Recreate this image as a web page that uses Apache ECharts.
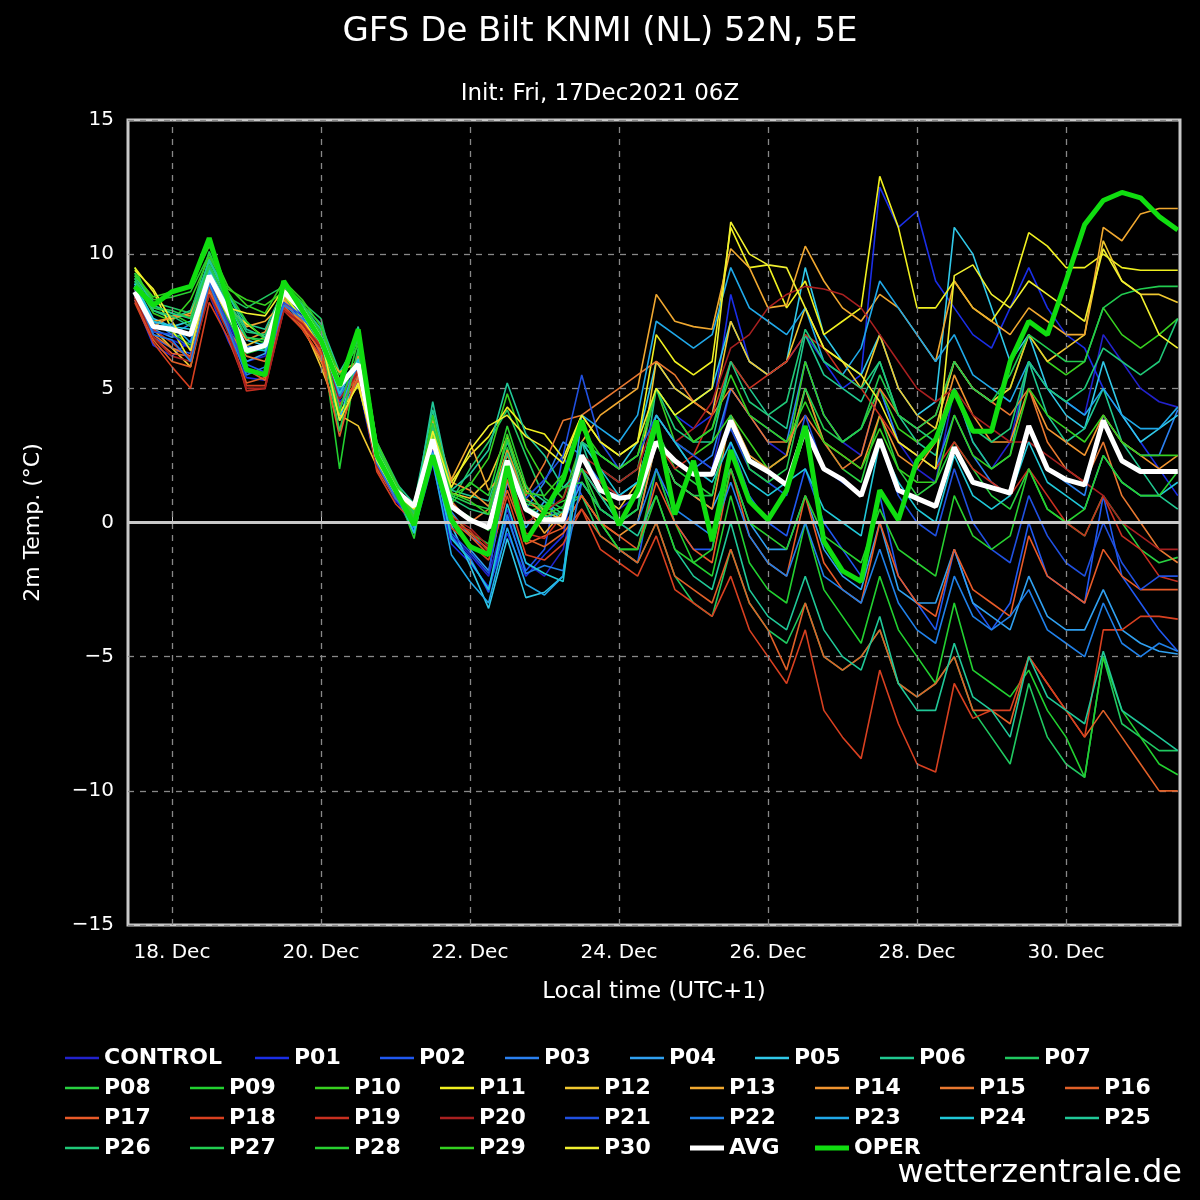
<!DOCTYPE html>
<html>
<head>
<meta charset="utf-8">
<script src="https://cdn.jsdelivr.net/npm/echarts@6/dist/echarts.min.js"></script>
<style>
  html, body { margin: 0; padding: 0; background: #000; }
  #chart { width: 1200px; height: 1200px; }
</style>
</head>
<body>
<div id="chart"></div>
<script>
// 6-hourly steps, first point 17 Dec 12:00 local
var days = [];
for (var i = 0; i < 57; i++) days.push(17.5 + i * 0.25);

// early part (17-23 Dec) + late part (23-31 Dec) for every member
var members = {
  CONTROL: { color: '#2222cc', early: [8.5,7.0,6.8,6.5,8.8,7.5,6.0,6.2,8.2,7.6,6.5,4.6,5.5,2.2,0.8,0.2,2.6,-0.5,-1.2,-2.0,0.5,-1.5,-2.0,-1.0],
    late: [2,1,0.5,1, 4,3,2.5,2, 5,4,3,2.5, 6,4,3,2.5, 5,3,2,1.5, 5,3,2,3, 6,5,4.5,4, 7,6,5,4.5, 4.3] },
  P01: { color: '#1a2ee6', early: [8.3,6.6,6.2,6.8,8.5,6.8,5.4,5.3,8.1,7.8,6.2,4.5,5.2,2.0,0.9,-0.3,2.2,-0.8,-1.5,-2.4,-0.4,-2.0,-1.2,-0.5],
    late: [3,2,1.5,2, 5,4,3.5,4, 8.5,6,5.5,6, 7,6,5,5.5, 12.5,11,11.6,9, 8,7,6.5,8, 9.5,8,7,6.5, 5,4,3,2, 1] },
  P02: { color: '#2058f0', early: [8.4,6.9,6.5,6.3,8.7,7.3,5.9,5.6,8.0,7.5,6.6,4.8,5.6,2.1,1.0,0.1,2.8,-0.6,-1.3,-2.6,0.2,-1.8,-1.0,2.5],
    late: [1,0,-1,-1.5, 2,0,-1,-1, 3,1,0,-0.5, 2,0,-1,-2, 1,-2,-3,-4, -1,-3,-4,-3, 0,-2,-2.5,-3, 1,-2,-3,-4, -4.8] },
  P03: { color: '#2a80f0', early: [8.8,7.5,7.0,7.4,9.5,8.0,6.6,6.4,8.3,7.8,6.8,5.3,5.9,2.6,1.1,0.4,3.0,0.4,-0.5,-1.0,1.8,0.5,1.5,3.0],
    late: [2.5,1.5,1,1.5, 4,3,2,2.5, 5,4,3.5,3, 6,4,3,3.5, 5,3,2.5,2, 4,2.5,1.5,1, 3.5,2,1.5,1, 4,3,2.5,2.5, 4.2] },
  P04: { color: '#30a0f0', early: [8.6,7.2,6.9,7.1,9.4,7.7,6.0,6.3,8.5,7.6,6.6,4.0,5.4,2.3,1.0,0.5,2.9,0.2,-1.0,-1.8,1.5,-0.2,0.8,0.0],
    late: [1.5,0.5,0,0, 3,1.5,1,0.5, 2,0,-1,-1, 1,-1,-2,-2.5, 0,-2.5,-3,-3, -1,-3,-3.5,-4, -2,-3.5,-4,-4, -2.5,-4,-4.5,-4.8, -4.9] },
  P05: { color: '#30c8e8', early: [8.9,7.6,7.3,7.5,9.8,8.2,6.8,6.6,8.4,7.9,7.0,3.8,6.3,2.6,1.1,-0.4,2.9,-0.1,-1.6,-3.2,-0.6,-2.8,-2.6,-2.0],
    late: [3,2.5,2,3, 6,5,4.5,5, 7.5,6,5.5,6, 9.5,7,6,5.5, 7,5,4,4.5, 11,10,8,6, 7,5,4,3.5, 6,4,3,3.5, 4] },
  P06: { color: '#20c890', early: [9.1,7.9,7.6,7.9,9.7,8.5,7.4,7.2,8.7,8.1,7.4,5.6,6.8,2.9,1.5,0.7,4.2,1.2,1.0,0.8,3.0,1.3,0.8,0.3],
    late: [3,1,0,0.5, 5,4,3,3, 6,5,4,3.5, 7,5.5,5,4.5, 6,4,3,2.5, 5,3,2,2.5, 6,4,3,3.5, 5,3,2,1, 0.5] },
  P07: { color: '#20c860', early: [9.3,8.2,8.0,7.8,10.1,8.4,8.0,8.4,8.8,8.2,7.6,4.9,7.0,3.0,1.6,0.2,3.9,0.8,2.0,3.0,4.2,2.5,0.9,0.5],
    late: [1,-0.5,-1,-1.5, 0,-2,-3,-3.5, -1,-3,-4,-4.5, -3,-5,-5.5,-5, -4,-6,-6.5,-6, -5,-7,-8,-9, -6,-8,-9,-9.5, -5,-7.5,-8,-8.5, -8.5] },
  P08: { color: '#28d040', early: [8.7,7.4,7.1,6.6,9.1,7.6,6.3,6.5,8.4,7.6,6.6,4.3,5.7,2.4,1.3,0.3,3.3,0.6,0.2,-0.3,2.1,0.4,0.6,0.2],
    late: [2,0.5,0,0.5, 3.5,2,1.5,1, 4,2.5,2,2.5, 5,3,2,1.5, 4,2,1,1.5, 3,2,1,0.5, 2,0.5,0,-0.5, 1,0,-1,-1.5, -1.3] },
  P09: { color: '#22d030', early: [9.5,8.0,7.8,7.4,9.6,8.3,6.9,6.7,8.9,8.0,7.1,2.0,6.4,2.7,1.3,-0.6,3.2,0.3,-0.4,-0.8,2.8,0.7,0.5,0.8],
    late: [1,0,-1,-1, 2,0,-1.5,-2, 1,-1.5,-2.5,-3, 0,-2.5,-3.5,-4.5, -2,-4,-5,-6, -3,-5.5,-6,-6.5, -5.5,-7,-8,-9.5, -5,-7,-8,-9, -9.4] },
  P10: { color: '#38d020', early: [9.0,7.8,7.5,8.3,9.9,8.7,8.3,8.1,8.6,8.0,7.2,5.5,6.6,2.8,1.4,0.5,3.4,1.0,1.4,2.4,4.8,2.8,1.6,0.9],
    late: [3,2,1.5,2, 5,3,2.5,3, 4,3,2,2.5, 6,4,3,3.5, 5,3.5,3,3.5, 6,5,4.5,5, 7,6,5.5,6, 8,7,6.5,7, 7.6] },
  P11: { color: '#f0f020', early: [9.5,8.6,7.2,6.0,9.3,8.0,7.4,6.9,8.5,7.6,6.5,4.1,5.1,2.5,1.2,0.6,3.3,1.5,2.5,3.2,4.3,3.5,3.3,2.4],
    late: [4,3,2.5,3, 7,6,5.5,6, 11,9.5,9.6,8, 9,7,7.5,8, 12.9,11,8,8, 9,8,7.5,8.5, 10.8,10.3,9.5,9.5, 10,9.5,9.4,9.4, 9.4] },
  P12: { color: '#f0c830', early: [8.8,7.2,6.5,5.8,9.0,7.7,6.6,6.9,8.3,7.4,5.8,4.0,3.6,2.1,1.1,0.7,3.6,1.1,0.9,1.6,3.2,1.2,0.4,0.1],
    late: [2,1,0.5,1.5, 6,5,4.5,4, 7.5,6,5.5,6, 8,6.5,6,5, 7,5,4,3.5, 6,5,4.5,5, 7,6,6.5,7, 10.5,9,8.5,8.5, 8.2] },
  P13: { color: '#f0a830', early: [8.5,7.5,7.6,7.8,9.4,8.1,7.3,7.5,8.2,7.5,6.5,5.6,6.0,2.8,1.3,0.5,3.8,1.6,3.0,1.2,2.0,0.6,-0.4,0.4],
    late: [3,4,4.5,5, 8.5,7.5,7.3,7.2, 10.2,9.5,8,8.1, 10.3,9,8,7.5, 8.5,8,7,6, 9,8,7.5,7, 8,7.5,7,7, 11,10.5,11.5,11.7, 11.7] },
  P14: { color: '#f09430', early: [8.7,7.3,7.7,7.7,9.0,7.8,6.8,7.1,8.4,7.3,6.0,4.8,6.2,2.6,1.2,0.6,3.5,1.5,1.2,0.6,2.7,0.9,0.3,-0.2],
    late: [1,0,-0.5,0, 3,1.5,1,0.5, 4,2.5,2,2.5, 5,3,2.5,2, 4,2.5,2,3, 5.5,4,3,3, 5,3.5,3,2.5, 4,3,2.5,2, 2.5] },
  P15: { color: '#e87830', early: [8.4,7.0,6.5,6.2,8.6,7.2,6.2,6.0,8.0,7.2,6.1,3.4,5.5,2.2,1.0,0.5,3.0,0.8,0.0,0.5,2.5,1.0,2.2,3.8],
    late: [4,4.5,5,5.5, 6,5.5,4.5,4, 5,4,3,3, 4,3,2,2.5, 5,4,3.5,4, 6,5,4.5,4, 5,3,2,1.5, 3,1,0,-1, -1.5] },
  P16: { color: '#e06028', early: [8.3,6.8,6.0,5.8,8.7,7.1,5.2,5.4,8.2,7.5,6.3,3.2,5.8,2.0,0.9,0.3,2.7,0.3,-0.4,-1.0,1.2,-0.6,-0.9,-0.4],
    late: [0.5,-0.5,-1,-1.5, 0,-2,-2.5,-3, -1,-3,-4,-5.5, -3,-5,-5.5,-5, -4,-6,-6.5,-6, -5,-7,-7,-7.5, -5,-6,-7,-8, -7,-8,-9,-10, -10] },
  P17: { color: '#e85a28', early: [8.5,6.9,6.3,6.2,8.5,7.3,5.7,5.3,8.1,7.3,6.4,4.4,5.3,2.1,0.9,0.2,2.7,0.1,-0.5,-1.2,1.6,-0.8,-0.5,-0.2],
    late: [1,0,-0.5,-1, 1.5,0,-1,-1.5, 2,-0.5,-1.5,-2, 1,-1.5,-2.5,-3, 0,-2,-3,-3.5, -1,-2.5,-3,-3.5, -0.5,-2,-2.5,-3, -1,-2,-2.5,-2.5, -2.5] },
  P18: { color: '#d84020', early: [8.2,6.7,5.8,5.0,8.2,6.9,5.1,5.1,7.9,7.2,6.2,4.3,5.6,1.9,0.7,0.0,2.4,-0.2,-0.8,-1.4,1.0,-1.2,-1.4,-0.8],
    late: [0.5,-1,-1.5,-2, -0.5,-2.5,-3,-3.5, -2,-4,-5,-6, -4,-7,-8,-8.8, -5.5,-7.5,-9,-9.3, -6,-7.3,-7,-7, -5,-6,-7,-8, -4,-4,-3.5,-3.5, -3.6] },
  P19: { color: '#c83020', early: [8.6,7.2,6.7,6.1,8.8,7.4,4.9,5.0,8.0,7.4,6.6,4.7,5.7,2.2,1.0,0.3,2.9,0.0,-0.3,-1.1,1.9,-0.4,-0.6,0.3],
    late: [2,1.5,1,1, 3,2,2.5,4, 6,5,5.5,6, 7,6.5,5.5,5, 4,3,2.5,2, 3,2,1.5,1, 2,1,0,-0.5, 1,-0.5,-1,-2, -2.2] },
  P20: { color: '#a82020', early: [8.4,6.9,6.2,6.0,8.5,7.1,5.0,5.0,7.9,7.4,6.5,4.6,5.6,2.1,0.9,0.1,2.8,0.2,-0.2,-0.9,2.0,0.0,0.4,0.9],
    late: [2.5,2,1.5,2, 4,3,3.5,4.5, 6.5,7,8,8.5, 8.8,8.7,8.5,8, 7,6,5,4.5, 5,4,3.5,3, 3,2.5,2,1.5, 1,0,-0.5,-1, -1] },
  P21: { color: '#2050e0', early: [8.7,7.1,7.0,6.5,9.0,7.4,5.6,5.5,8.2,7.7,6.7,4.9,5.9,2.3,1.0,0.2,2.7,-0.4,-1.1,-1.9,2.0,0.9,1.6,2.5],
    late: [5.5,3,2,2.5, 4,3,2.5,2, 3.5,2,1.5,1, 4,2,1.5,1, 3,1,0,-0.5, 2,0,-1,-1.5, 1,-0.5,-1.5,-2, 0,-1.5,-2.5,-2, -2] },
  P22: { color: '#2080e8', early: [8.6,7.0,6.8,6.0,8.9,7.2,5.5,5.8,8.1,7.6,6.9,4.7,5.8,2.2,0.9,0.1,2.5,-0.5,-1.4,-2.5,0.3,-1.9,-1.6,-1.8],
    late: [1.5,0.5,0,0, 2,0.5,0,-0.5, 1.5,-0.5,-1.5,-2, 0,-2,-2.5,-3, -1,-3,-4,-4.5, -2,-3.5,-4,-3.5, -2.5,-4,-4.5,-5, -3,-4.5,-5,-4.5, -4.8] },
  P23: { color: '#20a8e8', early: [8.8,7.3,7.4,6.7,9.3,7.8,6.4,6.7,8.6,7.9,6.7,4.2,6.0,2.4,1.1,-0.2,2.3,-1.2,-2.2,-3.0,-0.2,-2.3,-2.7,-2.0],
    late: [4,3.5,3,4, 7.5,7,6.5,7, 9.5,8,7.5,7, 8,6,5.5,6.5, 9,8,7,6, 7,5.5,5,4.5, 6,5,4.5,4, 5,4,3.5,3.5, 4.3] },
  P24: { color: '#20c8d8', early: [8.9,7.5,7.3,7.2,9.4,8.1,6.5,6.4,8.7,8.0,6.9,4.8,6.1,2.5,1.2,-0.4,2.6,-0.6,-1.4,-2.5,0.7,-1.5,-1.9,-2.2],
    late: [3,2,1,1.5, 4,3,2,1.5, 3,1.5,1,1.5, 2,0.5,0,-0.5, 3,1.5,0.5,0, 2.5,1,0.5,1, 3,1.5,1,0.5, 2.5,1.5,1,1, 1.5] },
  P25: { color: '#20c898', early: [9.2,8.1,7.8,7.6,9.8,8.5,7.2,6.9,8.8,8.1,7.2,5.2,7.3,2.9,1.3,0.4,4.5,1.2,1.8,2.7,5.2,3.3,2.5,1.3],
    late: [2,1,0,-0.5, 1,-1,-2,-2.5, 0,-2.5,-3.5,-4, -2,-4,-5,-5.5, -3.5,-6,-7,-7, -4.5,-6.5,-7,-8, -5,-6.5,-7,-7.5, -4.8,-7,-7.5,-8, -8.5] },
  P26: { color: '#20c878', early: [9.0,7.9,7.7,7.3,9.5,8.3,7.1,7.0,8.5,7.9,7.0,5.0,6.9,2.6,1.2,0.3,3.6,0.9,0.5,0.3,2.6,0.6,0.2,0.4],
    late: [3,2.5,2,2.5, 5,3.5,3,3.5, 6,4.5,4,4.5, 7.2,6,5.5,5, 6,4,3.5,3, 5,3.5,3,3.5, 6,5,4.5,5, 6.5,6,5.5,6, 7.6] },
  P27: { color: '#22cc50', early: [9.1,8.0,7.9,7.6,9.6,8.2,6.9,6.8,8.6,7.8,6.9,3.4,6.5,2.7,1.3,0.4,3.7,1.0,0.7,0.5,3.1,0.8,0.6,1.3],
    late: [1.5,0.5,0,0.5, 3,1.5,1,1, 4,2,1.5,2, 5,3.5,3,3.5, 5.5,4,3.5,4, 6,5,4.5,5.5, 7,6.5,6,6, 8,8.5,8.7,8.8, 8.8] },
  P28: { color: '#28d030', early: [9.3,8.3,8.4,8.6,10.0,8.6,7.5,6.8,8.9,8.2,7.0,4.1,6.8,2.8,1.4,0.1,3.4,0.7,1.5,1.0,3.6,1.4,0.3,0.6],
    late: [2,0,-1,-1, 1,-1,-1.5,-1, 2,0,-0.5,-1, 1,-0.5,-1,-1.5, 0.5,-1,-1.5,-2, 1,-0.5,-1,-0.5, 2,0.5,0,0.5, 2.5,1.5,1,1, 1.9] },
  P29: { color: '#34d020', early: [9.2,8.4,8.6,8.8,10.3,8.8,8.1,7.8,9.0,8.3,7.3,5.3,7.1,3.0,1.5,0.2,4.0,1.1,0.8,0.3,3.3,1.1,1.0,1.8],
    late: [3.5,2.5,2,2.5, 5,4,3,3.5, 5.5,4,3.5,3, 4.5,3,2.5,2, 3.5,2,1.5,1.5, 4,2.5,2,2.5, 5,4,3.5,3, 4,3,2.5,2.5, 2.5] },
  P30: { color: '#f0f030', early: [9.4,8.7,7.5,6.4,9.2,8.0,7.8,7.7,8.7,8.0,6.9,3.8,5.2,2.3,1.1,0.5,3.4,1.3,2.7,3.6,4.0,3.2,2.8,2.2],
    late: [4,3,2.5,3, 5,4,4.5,5, 11.2,10,9.6,9.5, 8,6.5,6,5.5, 4.5,3,2.5,2, 9.2,9.6,8.5,8, 9,8.5,8,7.5, 10.2,9,8.5,7, 6.5] }
};

var avg = [8.6,7.3,7.2,7.0,9.2,7.9,6.4,6.6,8.6,7.9,6.8,5.1,5.9,2.5,1.2,0.6,3.1,0.6,0.1,-0.2,2.3,0.5,0.1,0.1,
  2.5,1.2,0.9,1.0,3.0,2.3,1.8,1.8,3.8,2.3,1.9,1.4,3.5,2.0,1.6,1.0,3.1,1.2,0.9,0.6,2.8,1.5,1.3,1.1,3.6,2.0,1.6,1.4,3.8,2.3,1.9,1.9,1.9];
var oper = [8.8,8.1,8.6,8.8,10.6,8.3,5.7,5.5,9.0,7.9,6.8,5.1,7.2,2.5,1.2,-0.1,2.5,0.1,-0.9,-1.2,2.1,-0.7,0.4,1.6,
  3.8,1.8,-0.1,1.2,3.8,0.3,2.3,-0.7,2.7,0.8,0.1,1.2,3.6,-0.7,-1.8,-2.2,1.2,0.1,2.3,3.1,4.9,3.4,3.4,6.0,7.5,7.0,9.0,11.1,12.0,12.3,12.1,11.4,10.9];

function pair(vals) {
  return vals.map(function (v, i) { return [days[i], v]; });
}

var font = 'DejaVu Sans';
var series = [];
var legends = [];
var names = Object.keys(members);
names.forEach(function (name, k) {
  var m = members[name];
  series.push({
    name: name, type: 'line', showSymbol: false, silent: true,
    data: pair(m.early.concat(m.late)),
    lineStyle: { width: 1.6, color: m.color }, itemStyle: { color: m.color }, z: 3
  });
});
series.push({
  name: 'AVG', type: 'line', showSymbol: false, data: pair(avg),
  lineStyle: { width: 5, color: '#ffffff' }, itemStyle: { color: '#ffffff' }, z: 5
});
series.push({
  name: 'OPER', type: 'line', showSymbol: false, data: pair(oper),
  lineStyle: { width: 5, color: '#10dd10' }, itemStyle: { color: '#10dd10' }, z: 6
});
// grid guides
series.push({
  type: 'line', data: [], silent: true, z: 2,
  markLine: {
    silent: true, symbol: 'none', label: { show: false },
    lineStyle: { color: '#888', type: [6, 6], width: 1.3 },
    data: [18, 20, 22, 24, 26, 28, 30].map(function (d) { return { xAxis: d }; })
  }
});
series.push({
  type: 'line', data: [], silent: true, z: 2,
  markLine: {
    silent: true, symbol: 'none', label: { show: false },
    lineStyle: { color: '#c8c8c8', type: 'solid', width: 3 },
    data: [{ yAxis: 0 }]
  }
});

// legend layout: row 1 has CONTROL wider
var allNames = names.concat(['AVG', 'OPER']);
allNames.forEach(function (name, k) {
  var row, left;
  if (k < 8) { row = 0; left = k === 0 ? 60 : 250 + (k - 1) * 125; }
  else { row = Math.floor((k - 8) / 9) + 1; left = 60 + ((k - 8) % 9) * 125; }
  var isThick = name === 'AVG' || name === 'OPER';
  legends.push({
    data: [name], left: left, top: 1042 + row * 30,
    icon: 'rect', itemWidth: 34, itemHeight: isThick ? 5 : 2.5, itemGap: 8,
    textStyle: { color: '#fff', fontFamily: font, fontSize: 22, fontWeight: 'bold' },
    selectedMode: false
  });
});

var chart = echarts.init(document.getElementById('chart'));
chart.setOption({
  backgroundColor: '#000',
  animation: false,
  title: [
    { text: 'GFS De Bilt KNMI (NL) 52N, 5E', left: 'center', top: 10,
      textStyle: { color: '#fff', fontFamily: font, fontSize: 34, fontWeight: 'normal' } },
    { text: 'Init: Fri, 17Dec2021 06Z', left: 'center', top: 78,
      textStyle: { color: '#fff', fontFamily: font, fontSize: 23, fontWeight: 'normal' } }
  ],
  legend: legends,
  grid: { left: 128, top: 120, right: 20, bottom: 275, show: true, borderColor: '#c8c8c8', borderWidth: 3, backgroundColor: '#000' },
  xAxis: {
    type: 'value', min: 17.41, max: 31.53,
    name: 'Local time (UTC+1)', nameLocation: 'middle', nameGap: 56,
    nameTextStyle: { color: '#fff', fontFamily: font, fontSize: 23 },
    axisLine: { show: false }, splitLine: { show: false },
    axisTick: { show: true, customValues: [18, 20, 22, 24, 26, 28, 30], length: 6, inside: true, lineStyle: { color: '#c8c8c8' } },
    axisLabel: { customValues: [18, 20, 22, 24, 26, 28, 30], color: '#fff', fontFamily: font, fontSize: 20, margin: 18,
      formatter: function (v) { return v + '. Dec'; } }
  },
  yAxis: {
    type: 'value', min: -15, max: 15, interval: 5,
    name: '2m Temp. (°C)', nameLocation: 'middle', nameGap: 84,
    nameTextStyle: { color: '#fff', fontFamily: font, fontSize: 22 },
    axisLine: { show: false }, axisTick: { show: false },
    splitLine: { show: true, lineStyle: { color: '#888', type: [6, 6], width: 1.3 } },
    axisLabel: { color: '#fff', fontFamily: font, fontSize: 20, margin: 14,
      formatter: function (v) { return v < 0 ? '\u2212' + (-v) : String(v); } }
  },
  graphic: [{
    type: 'text', right: 18, top: 1158,
    style: { text: 'wetterzentrale.de', fill: '#fff', font: '32px "DejaVu Sans"' }
  }],
  series: series
});
</script>
</body>
</html>
